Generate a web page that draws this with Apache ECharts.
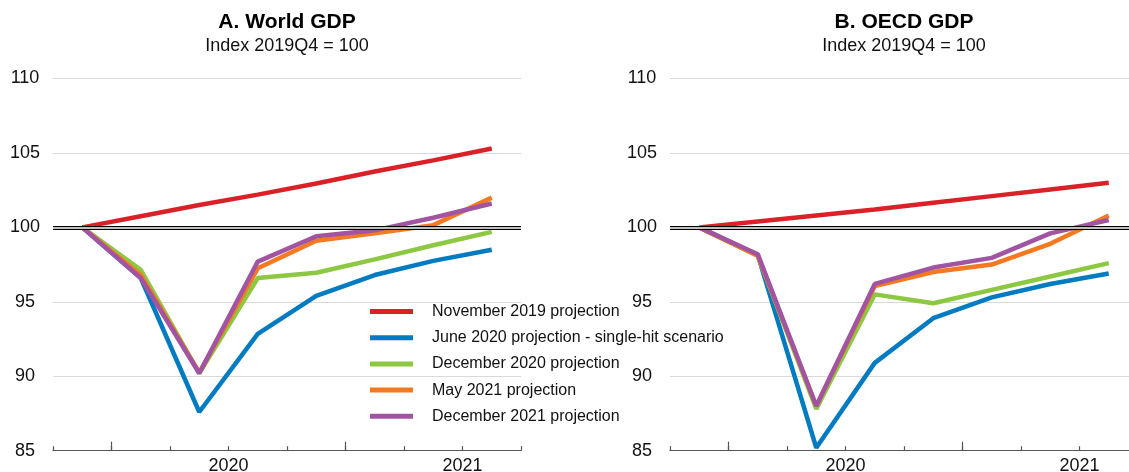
<!DOCTYPE html>
<html><head><meta charset="utf-8">
<script src="https://cdn.jsdelivr.net/npm/echarts@6/dist/echarts.min.js"></script>
<style>html,body{margin:0;padding:0;background:#fff}#c{width:1129px;height:472px}</style>
</head><body><div id="c"></div>
<script>
// ---- data ----
const quarters = ['2019Q4','2020Q1','2020Q2','2020Q3','2020Q4','2021Q1','2021Q2','2021Q3'];
const yearLabels = ['2020','2021'];
const seriesNames = [
  'November 2019 projection',
  'June 2020 projection - single-hit scenario',
  'December 2020 projection',
  'May 2021 projection',
  'December 2021 projection'
];
const panelTitles = ['A. World GDP','B. OECD GDP'];
const panelSubtitle = 'Index 2019Q4 = 100';
const yMin = 85, yMax = 110, yStep = 5, refLevel = 100;

const worldNov2019 = [100, 100.75, 101.5, 102.2, 102.95, 103.75, 104.5, 105.3];
const worldJun2020 = [100, 96.6, 87.6, 92.85, 95.4, 96.8, 97.75, 98.5];
const worldDec2020 = [100, 97.15, 90.2, 96.6, 96.95, 97.85, 98.8, 99.7];
const worldMay2021 = [100, 96.8, 90.25, 97.25, 99.1, 99.6, 100.15, 102.0];
const worldDec2021 = [100, 96.6, 90.2, 97.7, 99.4, 99.8, 100.65, 101.6];

const oecdNov2019 = [100, 100.4, 100.8, 101.2, 101.65, 102.1, 102.55, 103.0];
const oecdJun2020 = [100, 98.15, 85.2, 90.9, 93.9, 95.3, 96.2, 96.9];
const oecdDec2020 = [100, 98.1, 87.8, 95.5, 94.9, 95.8, 96.7, 97.6];
const oecdMay2021 = [100, 98.1, 88.0, 96.05, 97.0, 97.5, 98.9, 100.8];
const oecdDec2021 = [100, 98.2, 88.0, 96.2, 97.3, 97.95, 99.6, 100.5];

// ---- styles ----
const colors = ['#DA2128','#037BC1','#8CC841','#F47920','#A154A1'];
const FONT = '"Liberation Sans", Arial, sans-serif';
const axisColor = '#555';

const panels = [
  [worldNov2019, worldJun2020, worldDec2020, worldMay2021, worldDec2021],
  [oecdNov2019, oecdJun2020, oecdDec2020, oecdMay2021, oecdDec2021]
];

// axis positions derived from the quarter list
const xMin = -0.5, xMax = quarters.length - 0.5;
const quarterBounds = quarters.map((q, i) => i - 0.5).concat([quarters.length - 0.5]);
const yearBounds = [], yearMids = [], midLabel = {};
yearLabels.forEach(y => {
  const i = quarters.indexOf(y + 'Q1');
  yearBounds.push(i - 0.5);
  const mid = i - 0.5 + 2;
  yearMids.push(mid);
  midLabel[mid] = y;
});

const grids = [
  {left: 53, width: 468, top: 78.5, height: 372.2, containLabel: false, outerBoundsMode: 'none'},
  {left: 670, width: 468, top: 78.5, height: 372.2, containLabel: false, outerBoundsMode: 'none'}
];
const centers = grids.map(g => g.left + g.width / 2);

const xAxes = [], yAxes = [], series = [], titles = [];
grids.forEach((g, gi) => {
  xAxes.push({
    type: 'value', gridIndex: gi, min: xMin, max: xMax,
    axisLine: {show: true, lineStyle: {color: axisColor, width: 1.2}},
    axisTick: {show: true, inside: true, length: 4.5, customValues: quarterBounds, lineStyle: {color: axisColor, width: 1.2}},
    axisLabel: {show: false},
    splitLine: {show: false}
  });
  xAxes.push({
    type: 'value', gridIndex: gi, min: xMin, max: xMax, position: 'bottom',
    axisLine: {show: false},
    axisTick: {show: true, inside: true, length: 9, customValues: yearBounds, lineStyle: {color: axisColor, width: 1.2}},
    axisLabel: {show: true, customValues: yearMids, formatter: v => midLabel[v] || '', fontSize: 18, fontFamily: FONT, color: '#111', margin: 6},
    splitLine: {show: false}
  });
  yAxes.push({
    type: 'value', gridIndex: gi, min: yMin, max: yMax, interval: yStep,
    axisLine: {show: false}, axisTick: {show: false},
    axisLabel: {fontSize: 18, fontFamily: FONT, color: '#111', align: 'center', margin: 28},
    splitLine: {show: true, lineStyle: {color: '#d9d9d9', width: 1}}
  });
  panels[gi].forEach((vals, si) => {
    series.push({
      name: seriesNames[si], type: 'line', xAxisIndex: gi * 2, yAxisIndex: gi,
      data: vals.map((v, i) => [i, v]),
      symbol: 'none', showSymbol: false,
      lineStyle: {width: 4.5, color: colors[si]},
      itemStyle: {color: colors[si]},
      animation: false
    });
  });
  series.push({
    type: 'line', xAxisIndex: gi * 2, yAxisIndex: gi, data: [], silent: true, animation: false,
    markLine: {
      silent: true, symbol: ['none', 'none'], animation: false, label: {show: false},
      data: [
        {yAxis: refLevel, lineStyle: {color: '#000', width: 4, type: 'solid'}},
        {yAxis: refLevel, lineStyle: {color: '#fff', width: 1.6, type: 'solid'}}
      ]
    }
  });
  titles.push({
    text: panelTitles[gi], left: centers[gi], top: 12, textAlign: 'center', padding: 0,
    textStyle: {fontSize: 21, fontWeight: 'bold', fontFamily: FONT, color: '#000'}
  });
  titles.push({
    text: panelSubtitle, left: centers[gi], top: 37.5, textAlign: 'center', padding: 0,
    textStyle: {fontSize: 18, fontWeight: 'normal', fontFamily: FONT, color: '#111'}
  });
});

const chart = echarts.init(document.getElementById('c'), null, {renderer: 'canvas'});
chart.setOption({
  animation: false,
  backgroundColor: '#fff',
  title: titles,
  grid: grids,
  xAxis: xAxes,
  yAxis: yAxes,
  legend: {
    data: seriesNames, orient: 'vertical', left: 370, top: 303.5, padding: 0,
    icon: 'rect', itemWidth: 43, itemHeight: 5, itemGap: 10.2,
    textStyle: {fontSize: 16, fontFamily: FONT, color: '#111', padding: [0, 0, 0, 14], lineHeight: 16}
  },
  series: series
});
</script>
</body></html>
